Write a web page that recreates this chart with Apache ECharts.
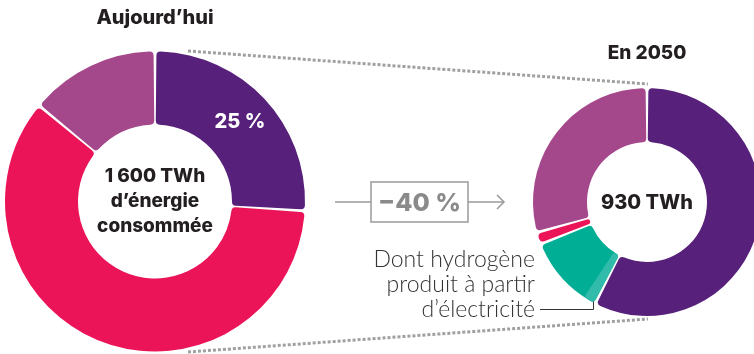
<!DOCTYPE html>
<html>
<head>
<meta charset="utf-8">
<script src="https://cdn.jsdelivr.net/npm/echarts@6/dist/echarts.min.js"></script>
<style>
  html, body { margin: 0; padding: 0; background: #fff; }
  #chart { width: 754px; height: 354px; }
</style>
</head>
<body>
<div id="chart"></div>
<script>
// parts of energy consumed, clockwise from 12 o'clock (share in %)
var todayNames = ['Électricité', 'Fossiles', 'Autres'];
var todayValues = [26, 60, 14];
var todayColors = ['#57207a', '#ec1459', '#a5488b'];

var futureNames = ['Électricité', 'Hydrogène', 'Fossiles', 'Autres'];
var futureValues = [57.5, 11.5, 1.7, 29.3];
var futureColors = ['#57207a', '#00ad95', '#ec1459', '#a5488b'];
// part of the hydrogen made from electricity (light teal)
var h2FromElec = 2;

var totals = ['1 600 TWh', '930 TWh'];
var elecLabels = ['25 %', '55 %'];

var bold = 'Inter, Lato, sans-serif';
var light = 'Lato, "Noto Sans", sans-serif';
var dark = '#231f20';
var grey = '#9a9a9a';

function items(names, values, colors) {
	var out = [];
	for (var i = 0; i < values.length; i++) {
		out.push({
			name: names[i],
			value: values[i],
			itemStyle: { color: colors[i] }
		});
	}
	return out;
}

var myChart = echarts.init(document.getElementById('chart'));

var todayData = items(todayNames, todayValues, todayColors);
todayData[0].label = { show: true, formatter: elecLabels[0] };

var option = {
	animation: false,
	series: [
		{
			type: 'pie',
			center: [155, 201.5],
			radius: [77, 150],
			startAngle: 90,
			clockwise: true,
			padAngle: 1.1,
			itemStyle: { borderRadius: 4 },
			label: {
				show: false, position: 'inside', color: '#fff', fontFamily: bold,
				fontWeight: 800, fontSize: 20
			},
			labelLine: { show: false },
			silent: true,
			data: todayData
		},
		{
			type: 'pie',
			center: [647, 202],
			radius: [60, 114],
			startAngle: 90,
			clockwise: true,
			padAngle: 1.4,
			itemStyle: { borderRadius: 4 },
			label: { show: false },
			labelLine: { show: false },
			silent: true,
			data: items(futureNames, futureValues, futureColors)
		},
		{
			// light teal slice laid over the teal one
			type: 'pie',
			z: 3,
			center: [647, 202],
			radius: [60, 114],
			startAngle: 90,
			clockwise: true,
			padAngle: 1.4,
			itemStyle: { borderRadius: 4 },
			label: { show: false },
			labelLine: { show: false },
			silent: true,
			data: [
				{ value: futureValues[0], itemStyle: { color: 'transparent' } },
				{ value: h2FromElec, itemStyle: { color: '#30bbaa' } },
				{ value: 100 - futureValues[0] - h2FromElec, itemStyle: { color: 'transparent' } }
			]
		}
	],
	graphic: [
		// dotted guide lines
		{
			type: 'polyline', silent: true,
			shape: { points: [[188, 51], [648, 84]] },
			style: { stroke: '#a0a0a0', lineWidth: 3, lineDash: [3, 2], fill: null }
		},
		{
			type: 'polyline', silent: true,
			shape: { points: [[188, 352], [648, 319]] },
			style: { stroke: '#a0a0a0', lineWidth: 3, lineDash: [3, 2], fill: null }
		},
		// titles
		{
			type: 'text', x: 155, y: 18,
			style: { text: 'Aujourd’hui', fill: dark, font: '800 20px ' + bold, align: 'center', verticalAlign: 'middle' }
		},
		{
			type: 'text', x: 647, y: 53,
			style: { text: 'En 2050', fill: dark, font: '800 19px ' + bold, align: 'center', verticalAlign: 'middle' }
		},
		// centre texts
		{
			type: 'text', x: 155, y: 201,
			style: {
				text: totals[0] + '\nd’énergie\nconsommée', fill: dark,
				font: '800 19px ' + bold, lineHeight: 25,
				align: 'center', verticalAlign: 'middle'
			}
		},
		{
			type: 'text', x: 647, y: 203,
			style: { text: totals[1], fill: dark, font: '800 20px ' + bold, align: 'center', verticalAlign: 'middle' }
		},
		{
			type: 'text', x: 728, y: 235,
			style: { text: elecLabels[1], fill: '#fff', font: '800 20px ' + bold, align: 'center', verticalAlign: 'middle' }
		},
		// -40 % arrow
		{
			type: 'line', shape: { x1: 335, y1: 202, x2: 371, y2: 202 },
			style: { stroke: grey, lineWidth: 1.5 }
		},
		{
			type: 'rect', shape: { x: 371, y: 182, width: 97, height: 40 },
			style: { stroke: grey, lineWidth: 1.5, fill: '#fff' }
		},
		{
			type: 'text', x: 419.5, y: 203,
			style: { text: '−40 %', fill: '#8a8a8a', font: '800 25px ' + bold, align: 'center', verticalAlign: 'middle' }
		},
		{
			type: 'line', shape: { x1: 468, y1: 202, x2: 503, y2: 202 },
			style: { stroke: grey, lineWidth: 1.5 }
		},
		{
			type: 'polyline', shape: { points: [[497, 195], [504, 202], [497, 209]] },
			style: { stroke: grey, lineWidth: 1.5, fill: null }
		},
		// hydrogen annotation
		{
			type: 'text', x: 535, y: 285,
			style: {
				text: 'Dont hydrogène\nproduit à partir\nd’électricité', fill: '#333',
				font: '300 23px ' + light, lineHeight: 25,
				align: 'right', verticalAlign: 'middle'
			}
		},
		{
			type: 'polyline', shape: { points: [[540, 309.5], [593.5, 309.5], [593.5, 296]] },
			style: { stroke: '#333', lineWidth: 1, fill: null }
		}
	]
};
myChart.setOption(option);
</script>
</body>
</html>
